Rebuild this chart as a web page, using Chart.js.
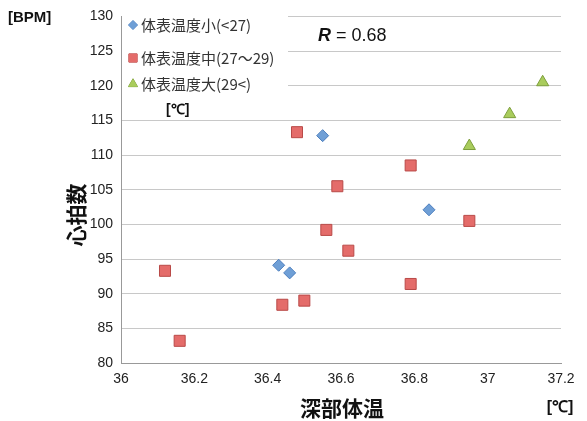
<!DOCTYPE html>
<html><head><meta charset="utf-8">
<script src="https://cdn.jsdelivr.net/npm/chart.js@4"></script>
<style>body{margin:0;background:#fff}#wrap{width:587px;height:421px}</style>
</head><body><div id="wrap"><canvas id="c"></canvas></div>
<script>
'use strict';
const seriesNames = ['体表温度小(<27)', '体表温度中(27〜29)', '体表温度大(29<)'];
const smallX = [36.55, 36.84, 36.43, 36.46];
const smallY = [112.8, 102.1, 94.1, 93.0];
const midX = [36.48, 36.79, 36.59, 36.95, 36.56, 36.62, 36.12, 36.79, 36.50, 36.44, 36.16];
const midY = [113.3, 108.5, 105.5, 100.5, 99.2, 96.2, 93.3, 91.4, 89.0, 88.4, 83.2];
const bigX = [37.15, 37.06, 36.95];
const bigY = [120.5, 115.9, 111.3];
const FONT = '"Noto Sans CJK JP", "Noto Sans", sans-serif';
const TICKFONT = '"Liberation Sans", Arial, sans-serif';

function pts(xs, ys) { return xs.map((x, i) => ({x: x, y: ys[i]})); }

const styles = [
  {ps: 'rectRot', r: 6, bg: '#6f9fd6', bd: '#4d7fbe'},
  {ps: 'rect', r: 7.8, bg: '#e46c6a', bd: '#b94a48'},
  {ps: 'triangle', r: 7, bg: '#a9cc5c', bd: '#7d9e3c'}
];

const overlay = {
  id: 'overlay',
  afterDraw(chart) {
    const ctx = chart.ctx;
    ctx.save();
    ctx.fillStyle = '#fff';
    ctx.fillRect(122, 14, 166, 104);
    const rows = [25, 58, 84];
    for (let i = 0; i < 3; i++) {
      const s = styles[i];
      ctx.fillStyle = s.bg; ctx.strokeStyle = s.bd; ctx.lineWidth = 1;
      Chart.helpers.drawPoint(ctx, {pointStyle: s.ps, radius: s.r * 0.75, borderWidth: 1}, 133, rows[i]);
      ctx.fill();
      ctx.fillStyle = '#333';
      ctx.font = '15px ' + FONT;
      ctx.textBaseline = 'middle';
      ctx.textAlign = 'left';
      ctx.fillText(seriesNames[i], 141, rows[i]);
    }
    ctx.fillStyle = '#111';
    ctx.font = 'bold 14px ' + TICKFONT;
    ctx.fillText('[℃]', 166, 110);
    ctx.font = 'bold italic 18px ' + TICKFONT;
    ctx.fillText('R', 318, 36);
    ctx.font = '18px ' + TICKFONT;
    ctx.fillText(' = 0.68', 331, 36);
    ctx.font = 'bold 15px ' + TICKFONT;
    ctx.fillText('[BPM]', 8, 18);
    ctx.font = 'bold 21px ' + FONT;
    ctx.textAlign = 'center';
    ctx.fillText('深部体温', 342, 408);
    ctx.font = 'bold 16px ' + TICKFONT;
    ctx.fillText('[℃]', 560, 408);
    ctx.translate(76, 215);
    ctx.rotate(-Math.PI / 2);
    ctx.font = 'bold 21px ' + FONT;
    ctx.fillText('心拍数', 0, 0);
    ctx.restore();
  }
};

const datasets = [pts(smallX, smallY), pts(midX, midY), pts(bigX, bigY)].map((d, i) => ({
  label: seriesNames[i], data: d,
  pointStyle: styles[i].ps, pointRadius: styles[i].r,
  backgroundColor: styles[i].bg, borderColor: styles[i].bd, borderWidth: 1
}));

new Chart(document.getElementById('c'), {
  type: 'scatter',
  data: {datasets: datasets},
  options: {
    responsive: true, maintainAspectRatio: false, animation: false,
    layout: {padding: {top: 15, right: 26, left: 0, bottom: 0}},
    plugins: {legend: {display: false}, tooltip: {enabled: false}},
    scales: {
      x: {
        min: 36, max: 37.2,
        ticks: {stepSize: 0.2, color: '#222', font: {size: 14, family: TICKFONT}, padding: 8,
          callback: v => Math.round(v * 10) / 10},
        grid: {display: false, drawTicks: false},
        border: {color: '#999'},
        afterFit: s => { s.height = 58; }
      },
      y: {
        min: 80, max: 130,
        ticks: {stepSize: 5, color: '#222', font: {size: 14, family: TICKFONT}, padding: 8},
        grid: {color: '#c8c8c8', drawTicks: false},
        border: {color: '#999'},
        afterFit: s => { s.width = 121; }
      }
    }
  },
  plugins: [overlay]
});
</script></body></html>
